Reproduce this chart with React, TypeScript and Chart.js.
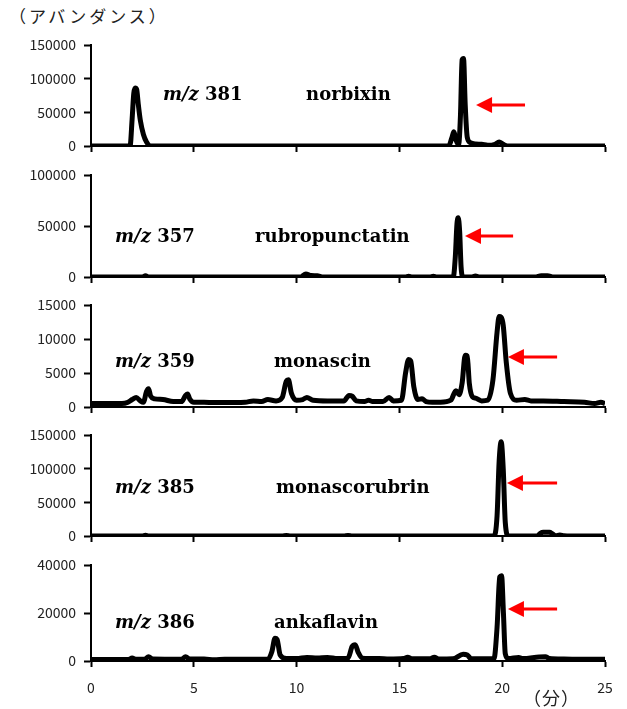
import React, { useEffect, useRef } from "react";
import { Chart, registerables } from "chart.js";

Chart.register(...registerables);

// ---------- data (retention time in minutes, abundance) ----------
const xTicks = [0, 5, 10, 15, 20, 25];

const norbixinTime = [0, 1.9, 2.0, 2.08, 2.15, 2.22, 2.3, 2.4, 2.55, 2.7, 2.9, 17.4, 17.55, 17.65, 17.75, 17.88, 17.97, 18.05, 18.12, 18.2, 18.3, 18.45, 18.7, 19.0, 19.3, 19.65, 19.85, 20.05, 20.25, 25];
const norbixinValue = [0, 0, 40000, 78000, 86000, 84000, 62000, 38000, 17000, 6000, 0, 0, 12000, 21000, 9000, 2000, 45000, 128000, 130000, 62000, 13000, 5000, 3000, 2500, 1000, 2500, 6000, 2500, 0, 0];

const rubroTime = [0, 2.5, 2.65, 2.8, 10.2, 10.45, 10.7, 11.0, 11.3, 15.3, 15.45, 15.6, 16.5, 16.65, 16.8, 17.62, 17.72, 17.8, 17.86, 17.93, 18.0, 18.1, 18.5, 18.7, 18.9, 21.6, 21.9, 22.2, 22.5, 25];
const rubroValue = [0, 0, 1200, 0, 0, 3000, 1500, 1200, 0, 0, 800, 0, 0, 800, 0, 0, 20000, 52000, 58000, 45000, 10000, 0, 0, 1000, 0, 0, 1200, 1200, 0, 0];

const monascinTime = [0, 1.5, 1.8, 2.0, 2.2, 2.4, 2.55, 2.7, 2.8, 2.9, 3.1, 3.5, 4.0, 4.4, 4.6, 4.7, 4.8, 5.0, 5.5, 6.0, 7.0, 7.5, 7.9, 8.3, 8.6, 9.0, 9.3, 9.5, 9.6, 9.75, 10.0, 10.3, 10.5, 10.8, 11.5, 12.3, 12.55, 12.7, 12.9, 13.3, 13.5, 13.7, 14.2, 14.5, 14.7, 15.1, 15.3, 15.45, 15.55, 15.7, 15.9, 16.1, 16.3, 16.6, 17.0, 17.5, 17.75, 17.9, 18.05, 18.2, 18.3, 18.4, 18.55, 18.7, 19.0, 19.3, 19.55, 19.75, 19.85, 19.95, 20.05, 20.2, 20.4, 20.7, 21.1, 21.4, 22, 23, 24, 24.5, 24.8, 25];
const monascinValue = [500, 500, 700, 1100, 1400, 900, 700, 2300, 2700, 1600, 1200, 1100, 800, 800, 1700, 1900, 1200, 700, 700, 650, 650, 700, 900, 800, 1100, 900, 1400, 3800, 4000, 2000, 1000, 1100, 1400, 1000, 900, 900, 1700, 1600, 900, 800, 1000, 800, 800, 1400, 900, 1000, 5000, 7000, 6800, 3000, 1100, 1200, 800, 700, 700, 1000, 2400, 1800, 3500, 7600, 7500, 3500, 1500, 1300, 900, 1000, 4000, 11000, 13300, 13200, 12000, 6500, 2000, 1000, 1100, 900, 900, 800, 700, 500, 700, 500];

const monascorubrinTime = [0, 2.5, 2.65, 2.8, 9.3, 9.5, 9.7, 12.3, 12.5, 12.7, 19.6, 19.75, 19.85, 19.95, 20.05, 20.15, 20.3, 21.7, 21.85, 22.0, 22.3, 22.45, 22.6, 22.8, 23.0, 23.3, 25];
const monascorubrinValue = [0, 0, 1000, 0, 0, 700, 0, 0, 800, 0, 0, 30000, 110000, 140000, 100000, 20000, 0, 0, 4000, 5500, 5500, 3000, 500, 1500, 500, 0, 0];

const ankaflavinTime = [0, 1.8, 2.0, 2.2, 2.6, 2.8, 3.0, 4.4, 4.6, 4.8, 5.5, 6.0, 6.5, 8.6, 8.8, 8.95, 9.05, 9.2, 9.5, 10.0, 10.5, 11.0, 11.5, 12.0, 12.5, 12.7, 12.85, 13.0, 13.2, 14, 14.5, 15.2, 15.4, 15.6, 16.5, 16.7, 16.9, 17.6, 18.1, 18.3, 18.5, 19.6, 19.75, 19.88, 19.97, 20.06, 20.15, 20.3, 20.8, 21.0, 21.8, 22.1, 22.3, 23, 24, 25];
const ankaflavinValue = [600, 600, 1200, 700, 700, 1800, 800, 700, 1800, 800, 800, 500, 700, 700, 4000, 9500, 9000, 2500, 1000, 1000, 1500, 1200, 1500, 1000, 1200, 6000, 6800, 3500, 1200, 1000, 800, 1000, 1600, 900, 900, 1600, 800, 900, 2800, 2500, 900, 900, 14000, 35000, 35500, 20000, 3000, 1000, 1500, 1000, 1700, 1800, 1000, 800, 700, 700];

const mzLabels = ["381", "357", "359", "385", "386"];
const compoundNames = ["norbixin", "rubropunctatin", "monascin", "monascorubrin", "ankaflavin"];
const yMaxes = [150000, 100000, 15000, 150000, 40000];
const ySteps = [50000, 50000, 5000, 50000, 20000];

// ---------- layout ----------
const W = 627;
const PADT = 18;
const AXIS_W = 91;
const PAD_R = 22;

type PanelCfg = {
  times: number[];
  values: number[];
  mz: string;
  name: string;
  yMax: number;
  yStep: number;
  top: number;
  bottom: number;
  mzAt: [number, number];
  nameAt: [number, number];
  arrow: [number, number, number]; // tip x, tail x, y (data units)
};

const panels: PanelCfg[] = [
  { times: norbixinTime, values: norbixinValue, mz: mzLabels[0], name: compoundNames[0], yMax: yMaxes[0], yStep: ySteps[0], top: 45, bottom: 146, mzAt: [3.5, 68300], nameAt: [10.46, 68300], arrow: [18.73, 21.11, 60900] },
  { times: rubroTime, values: rubroValue, mz: mzLabels[1], name: compoundNames[1], yMax: yMaxes[1], yStep: ySteps[1], top: 175, bottom: 277, mzAt: [1.17, 34300], nameAt: [7.98, 34300], arrow: [18.19, 20.53, 40200] },
  { times: monascinTime, values: monascinValue, mz: mzLabels[2], name: compoundNames[2], yMax: yMaxes[2], yStep: ySteps[2], top: 305, bottom: 407, mzAt: [1.17, 5880], nameAt: [8.9, 5880], arrow: [20.28, 22.67, 7350] },
  { times: monascorubrinTime, values: monascorubrinValue, mz: mzLabels[3], name: compoundNames[3], yMax: yMaxes[3], yStep: ySteps[3], top: 435, bottom: 536, mzAt: [1.17, 63900], nameAt: [9.0, 63900], arrow: [20.23, 22.67, 78700] },
  { times: ankaflavinTime, values: ankaflavinValue, mz: mzLabels[4], name: compoundNames[4], yMax: yMaxes[4], yStep: ySteps[4], top: 565, bottom: 661, mzAt: [1.17, 13750], nameAt: [8.9, 13750], arrow: [20.28, 22.67, 21700] },
];

const tickFont = { family: '"Noto Sans CJK JP", "Noto Sans", sans-serif', size: 14 };
const tickColor = "#222";

function makeAnnot(cfg: PanelCfg) {
  return {
    id: "annot",
    afterDraw(chart: any) {
      const { ctx } = chart;
      const xs = chart.scales.x;
      const ys = chart.scales.y;
      ctx.save();
      ctx.fillStyle = "#000";
      ctx.textBaseline = "alphabetic";
      ctx.textAlign = "left";
      const lx = xs.getPixelForValue(cfg.mzAt[0]);
      const ly = ys.getPixelForValue(cfg.mzAt[1]);
      ctx.font = 'italic bold 18px "DejaVu Serif"';
      ctx.fillText("m/z", lx, ly);
      const w = ctx.measureText("m/z ").width;
      ctx.font = 'bold 18px "DejaVu Serif"';
      ctx.fillText(cfg.mz, lx + w, ly);
      ctx.fillText(cfg.name, xs.getPixelForValue(cfg.nameAt[0]), ys.getPixelForValue(cfg.nameAt[1]));

      // arrow
      const tipX = xs.getPixelForValue(cfg.arrow[0]);
      const tailX = xs.getPixelForValue(cfg.arrow[1]);
      const ay = ys.getPixelForValue(cfg.arrow[2]);
      ctx.strokeStyle = "#ff0000";
      ctx.fillStyle = "#ff0000";
      ctx.lineWidth = 3;
      ctx.beginPath();
      ctx.moveTo(tailX, ay);
      ctx.lineTo(tipX + 12, ay);
      ctx.stroke();
      ctx.beginPath();
      ctx.moveTo(tipX, ay);
      ctx.lineTo(tipX + 16, ay - 8);
      ctx.lineTo(tipX + 16, ay + 8);
      ctx.closePath();
      ctx.fill();
      ctx.restore();
    },
  };
}

function Panel({ cfg, last }: { cfg: PanelCfg; last: boolean }) {
  const ref = useRef<HTMLCanvasElement>(null);
  const xh = last ? 42 : 18;
  const h = cfg.bottom - cfg.top + PADT + xh;
  useEffect(() => {
    const canvas = ref.current!;
    const chart = new Chart(canvas, {
      type: "line",
      data: {
        datasets: [
          {
            data: cfg.times.map((t, i) => ({ x: t, y: cfg.values[i] })),
            borderColor: "#000",
            borderWidth: 5,
            pointRadius: 0,
            cubicInterpolationMode: "monotone",
            fill: false,
          } as any,
        ],
      },
      options: {
        responsive: false,
        maintainAspectRatio: false,
        animation: false,
        events: [],
        layout: { padding: { top: PADT, left: 0, right: PAD_R, bottom: 0 } },
        plugins: { legend: { display: false }, tooltip: { enabled: false } },
        scales: {
          x: {
            type: "linear",
            min: 0,
            max: 25,
            afterBuildTicks: (s: any) => {
              s.ticks = xTicks.map((v) => ({ value: v }));
            },
            ticks: { display: last, font: tickFont, color: tickColor, padding: 12, maxRotation: 0 },
            grid: { drawOnChartArea: false, tickLength: 6, tickWidth: 2, tickColor: "#000" },
            border: { color: "#000", width: 2 },
            afterFit: (s: any) => {
              s.height = xh;
            },
          },
          y: {
            type: "linear",
            min: 0,
            max: cfg.yMax,
            ticks: { stepSize: cfg.yStep, font: tickFont, color: tickColor, padding: 8, callback: (v: any) => String(v) },
            grid: { drawOnChartArea: false, tickLength: 7, tickWidth: 2, tickColor: "#000" },
            border: { color: "#000", width: 2 },
            afterFit: (s: any) => {
              s.width = AXIS_W;
            },
          },
        },
      } as any,
      plugins: [makeAnnot(cfg)],
    });
    return () => chart.destroy();
  }, []);
  return (
    <canvas
      ref={ref}
      width={W}
      height={h}
      style={{ position: "absolute", left: 0, top: cfg.top - PADT, width: W, height: h }}
    />
  );
}

export default function App() {
  return (
    <div style={{ position: "absolute", left: 0, top: 0, width: W, height: 709, background: "#fff", overflow: "hidden" }}>
      <div
        style={{
          position: "absolute",
          left: 9,
          top: 6,
          fontFamily: '"Noto Sans CJK JP", sans-serif',
          fontSize: 17,
          letterSpacing: "3px",
          lineHeight: "20px",
          color: "#222",
          whiteSpace: "nowrap",
        }}
      >
        （アバンダンス）
      </div>
      {panels.map((p, i) => (
        <Panel key={i} cfg={p} last={i === panels.length - 1} />
      ))}
      <div
        style={{
          position: "absolute",
          left: 523,
          top: 687,
          fontFamily: '"Noto Sans CJK JP", sans-serif',
          fontSize: 18,
          letterSpacing: "1px",
          lineHeight: "20px",
          color: "#222",
          whiteSpace: "nowrap",
        }}
      >
        （分）
      </div>
    </div>
  );
}
